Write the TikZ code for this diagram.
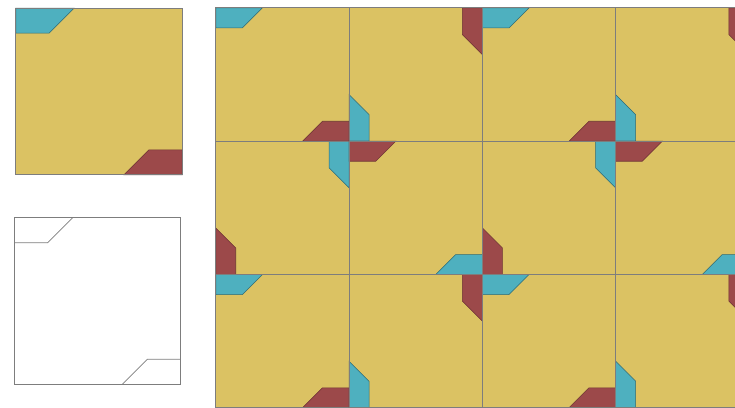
\documentclass[tikz,border=0pt]{standalone}
\usepackage{xcolor}
\usepackage{tikz}
\definecolor{tilesand}{RGB}{219,194,99}
\definecolor{tileteal}{RGB}{78,176,191}
\definecolor{tilebrick}{RGB}{156,73,74}
\definecolor{linegray}{RGB}{125,125,125}

\tikzset{
  tileline/.style={linegray,line width=0.6pt},
  tealcut/.style={fill=tileteal,draw=tileteal!60!black,line width=0.3pt},
  brickcut/.style={fill=tilebrick,draw=tilebrick!70!black,line width=0.3pt},
  tile/.pic={
    \fill[tilesand] (-0.5,-0.5) rectangle (0.5,0.5);
    \path[tealcut] (-0.5,0.5) -- (-0.15,0.5) -- (-0.3,0.35) -- (-0.5,0.35) -- cycle;
    \path[brickcut] (0.5,-0.5) -- (0.15,-0.5) -- (0.3,-0.35) -- (0.5,-0.35) -- cycle;
    \draw[tileline] (-0.5,-0.5) rectangle (0.5,0.5);
  },
  blanktile/.pic={
    \draw[tileline] (-0.5,-0.5) rectangle (0.5,0.5);
    \draw[tileline,line width=0.4pt] (-0.5,0.35) -- (-0.3,0.35) -- (-0.15,0.5);
    \draw[tileline,line width=0.4pt] (0.5,-0.35) -- (0.3,-0.35) -- (0.15,-0.5);
  }
}

\begin{document}
\begin{tikzpicture}[x=0.02cm,y=0.02cm]
    \clip (0,0) rectangle (735,407);
    % the single tile, coloured and blank
    \pic[scale=166.5] at (99,315.5) {tile};
    \pic[scale=166.5] at (97.5,106) {blanktile};
    % turned copies laid in rows
    \foreach \r/\ta/\tb in {0/0/90,1/-90/180,2/0/90}
      \foreach \k in {0,1,2,3}{
        \pgfmathsetmacro{\turn}{ifthenelse(isodd(\k),\tb,\ta)}
        \pic[scale=133.3,rotate=\turn] at ({282.4+133.3*\k},{332.4-133.3*\r}) {tile};}
  \end{tikzpicture}
\end{document}
